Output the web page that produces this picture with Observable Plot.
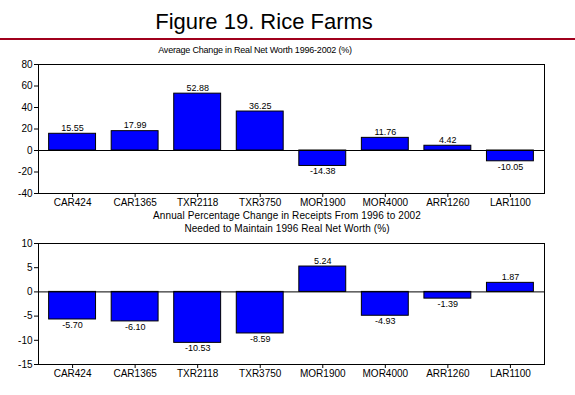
<!DOCTYPE html>
<html><head><meta charset="utf-8">
<script src="https://cdn.jsdelivr.net/npm/d3@7"></script>
<script src="https://cdn.jsdelivr.net/npm/@observablehq/plot@0.6"></script>
<style>
body{margin:0;background:#fff;width:575px;height:395px;position:relative;overflow:hidden;font-family:Arial,"Liberation Sans",sans-serif;color:#000;}
.abs{position:absolute;}
svg{overflow:visible;}
</style></head><body>
<div class="abs" style="left:0;width:528px;top:11px;text-align:center;font-size:22px;line-height:22px;">Figure 19. Rice Farms</div>
<div class="abs" style="left:0;top:38px;width:575px;height:2px;background:#a0001c;"></div>
<div class="abs" style="left:0;width:510px;top:45px;text-align:center;font-size:9px;line-height:10px;letter-spacing:-0.2px;">Average Change in Real Net Worth 1996-2002 (%)</div>
<div class="abs" style="left:0;width:574px;top:210px;text-align:center;font-size:10px;line-height:12.5px;letter-spacing:0.1px;">Annual Percentage Change in Receipts From 1996 to 2002<br>Needed to Maintain 1996 Real Net Worth (%)</div>
<div id="top" class="abs" style="left:0;top:56px;"></div>
<div id="bottom" class="abs" style="left:0;top:235px;"></div>
<script>
const categories = ["CAR424","CAR1365","TXR2118","TXR3750","MOR1900","MOR4000","ARR1260","LAR1100"];
const netWorthChange = [15.55, 17.99, 52.88, 36.25, -14.38, 11.76, 4.42, -10.05];
const receiptsChange = [-5.70, -6.10, -10.53, -8.59, 5.24, -4.93, -1.39, 1.87];
const netWorthTicks = [-40, -20, 0, 20, 40, 60, 80];
const receiptsTicks = [-15, -10, -5, 0, 5, 10];

function panel(values, ticks, height) {
  const data = categories.map((c, i) => ({cat: c, v: values[i]}));
  const fmt = d3.format(".2f");
  const lbl = d => fmt(d.v).replace("−", "-");
  return Plot.plot({
    width: 575,
    height: height,
    marginTop: 8,
    marginBottom: 18,
    marginLeft: 38,
    marginRight: 31,
    style: {fontFamily: "Arial, 'Liberation Sans', sans-serif", fontSize: "10px", background: "#fff", color: "#000"},
    x: {type: "band", domain: categories, paddingInner: 0.25, paddingOuter: 0.17, round: false, label: null},
    y: {domain: [ticks[0], ticks[ticks.length - 1]], label: null},
    marks: [
      Plot.barY(data, {x: "cat", y: "v", fill: "#0000ff", stroke: "#000", strokeWidth: 1}),
      Plot.ruleY([0], {stroke: "#000", strokeWidth: 1}),
      Plot.text(data.filter(d => d.v >= 0), {x: "cat", y: "v", text: lbl, lineAnchor: "bottom", dy: -3, fontSize: 9, fill: "#000"}),
      Plot.text(data.filter(d => d.v < 0), {x: "cat", y: "v", text: lbl, lineAnchor: "top", dy: 2, fontSize: 9, fill: "#000"}),
      Plot.frame({stroke: "#000", strokeWidth: 1}),
      Plot.axisY({ticks: ticks, tickSize: 4, tickPadding: 2, tickFormat: d => String(d), label: null, fontSize: 10}),
      Plot.axisX({tickSize: 4, tickPadding: 1, label: null, fontSize: 10})
    ]
  });
}

document.getElementById("top").appendChild(panel(netWorthChange, netWorthTicks, 155));
document.getElementById("bottom").appendChild(panel(receiptsChange, receiptsTicks, 147));
</script>
</body></html>
